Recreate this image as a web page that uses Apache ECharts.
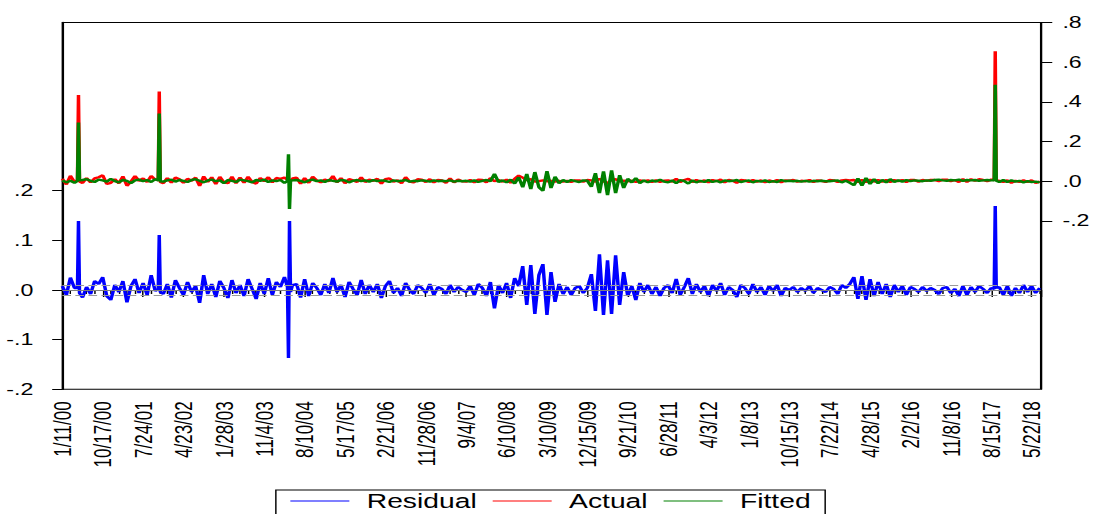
<!DOCTYPE html>
<html>
<head>
<meta charset="UTF-8">
<title>Residual / Actual / Fitted</title>
<script src="https://cdn.jsdelivr.net/npm/echarts@6/dist/echarts.min.js"></script>
<style>
  html, body { margin: 0; padding: 0; background: #fff; overflow: hidden; }
  /* the EViews export is stretched sideways, so draw narrow and widen it */
  #chart { width: 754px; height: 514px; transform: scaleX(1.4496); transform-origin: 0 0; }
</style>
</head>
<body>
<div id="chart"></div>
<script>
// x is the week number counted from 1/11/00; main grid = one point every 4 weeks
var tickLabels = ['1/11/00','10/17/00','7/24/01','4/23/02','1/28/03','11/4/03','8/10/04','5/17/05',
  '2/21/06','11/28/06','9/4/07','6/10/08','3/10/09','12/15/09','9/21/10','6/28/11','4/3/12',
  '1/8/13','10/15/13','7/22/14','4/28/15','2/2/16','11/8/16','8/15/17','5/22/18'];

var residual = [
  0.008,-0.010,0.025,0.004,0.139,-0.015,0.006,-0.008,0.018,0.012,
  0.026,-0.012,-0.020,0.010,-0.004,0.018,-0.025,0.008,0.022,-0.006,
  0.014,-0.010,0.030,-0.002,0.111,-0.008,0.012,-0.015,0.020,0.004,
  -0.010,0.016,-0.004,0.008,-0.026,0.030,-0.008,0.012,-0.014,0.018,
  0.004,-0.016,0.020,-0.006,0.010,-0.012,0.022,0.002,-0.018,0.014,
  -0.008,0.024,-0.010,0.016,0.006,0.026,-0.137,0.010,0.012,-0.015,
  0.022,-0.012,0.014,0.004,-0.010,0.012,-0.006,0.024,-0.004,0.010,
  -0.014,0.016,0.002,-0.010,0.020,-0.008,0.010,-0.004,0.012,-0.016,
  0.008,0.018,-0.006,0.004,-0.012,0.014,0.000,-0.008,0.010,0.004,
  -0.006,0.012,-0.010,0.006,0.002,-0.008,0.010,-0.004,0.006,0.000,
  -0.004,0.008,-0.010,0.012,0.004,-0.012,0.016,-0.037,0.010,-0.006,
  0.014,-0.016,0.024,0.008,0.048,-0.030,0.050,-0.048,0.030,0.052,
  -0.050,0.036,-0.024,0.012,-0.008,0.006,-0.010,0.004,0.008,-0.006,
  0.004,0.032,-0.042,0.072,-0.050,0.060,-0.048,0.070,-0.030,0.036,
  -0.012,0.008,-0.020,0.014,-0.004,0.010,-0.008,0.006,-0.012,0.004,
  0.010,-0.006,0.022,-0.010,0.006,0.024,-0.008,0.012,-0.004,0.008,
  -0.012,0.010,-0.002,0.014,-0.010,0.006,0.000,-0.014,0.010,0.004,
  -0.008,0.012,-0.004,0.006,-0.010,0.008,-0.002,0.010,-0.012,0.004,
  0.000,0.006,-0.004,0.004,-0.002,0.008,-0.006,0.004,0.000,-0.004,
  0.006,0.002,-0.008,0.010,0.004,0.012,0.026,-0.018,0.028,-0.020,
  0.022,-0.012,0.016,-0.008,0.012,-0.014,0.010,-0.004,0.008,-0.010,
  0.006,0.002,-0.004,0.006,-0.002,0.004,0.000,-0.008,0.004,0.006,
  -0.006,0.002,-0.012,0.008,-0.010,0.006,-0.004,0.008,0.002,-0.006,
  0.004,0.169,0.006,-0.010,0.008,-0.012,0.004,-0.006,0.010,-0.004,
  0.008,-0.006,0.004
];

var fitted = [
  0.004,-0.006,0.002,-0.008,0.296,0.006,0.010,0.002,-0.004,0.008,
  0.004,-0.002,0.012,0.000,-0.006,0.006,0.002,-0.010,0.004,0.008,
  0.000,0.006,-0.004,0.010,0.341,-0.002,0.004,0.008,-0.002,0.006,
  0.002,-0.004,0.006,0.010,0.002,-0.006,0.004,0.008,0.000,0.004,
  -0.010,0.006,0.002,-0.004,0.008,0.004,0.000,-0.006,0.006,0.002,
  0.008,-0.004,0.004,0.000,0.006,-0.008,0.136,0.004,0.006,0.002,
  -0.006,0.004,0.008,0.000,0.004,-0.004,0.006,0.002,-0.002,0.006,
  0.004,-0.006,0.002,0.006,0.000,0.004,-0.002,0.006,0.000,0.004,
  0.002,-0.004,0.004,0.000,0.002,0.006,-0.002,0.002,0.000,0.004,
  0.002,-0.002,0.004,0.000,0.002,0.000,0.004,-0.002,0.002,0.000,
  0.002,-0.002,0.004,-0.004,0.002,0.006,0.000,0.037,-0.004,0.004,
  -0.006,0.008,-0.012,0.020,-0.030,0.036,-0.040,0.046,-0.030,-0.048,
  0.050,-0.034,0.022,-0.010,0.006,-0.004,0.006,0.000,-0.004,0.004,
  0.002,-0.028,0.040,-0.060,0.050,-0.070,0.055,-0.060,0.030,-0.034,
  0.012,-0.006,0.016,-0.010,0.004,-0.006,0.004,-0.002,0.008,-0.002,
  -0.006,0.004,-0.010,0.006,0.000,-0.012,0.004,-0.006,0.002,-0.004,
  0.006,-0.004,0.002,-0.006,0.004,0.000,0.002,0.006,-0.004,0.000,
  0.004,-0.006,0.002,-0.002,0.004,-0.004,0.000,-0.004,0.006,0.000,
  0.002,0.000,0.002,-0.002,0.002,-0.002,0.002,0.000,0.002,0.000,
  0.000,0.002,0.004,-0.006,0.002,-0.008,-0.020,0.014,-0.022,0.016,
  -0.014,0.010,-0.010,0.006,-0.006,0.010,-0.004,0.004,-0.002,0.006,
  0.000,0.004,0.002,0.000,0.004,0.002,0.006,0.008,0.004,0.002,
  0.006,0.004,0.008,0.002,0.006,0.004,0.006,0.002,0.004,0.006,
  0.004,0.486,-0.004,0.006,-0.004,0.004,-0.002,0.002,-0.006,0.000,
  -0.004,-0.002,-0.006
];

var actual = [
  0.012,-0.016,0.027,-0.004,0.435,-0.009,0.016,-0.006,0.014,0.020,
  0.030,-0.014,-0.008,0.010,-0.010,0.024,-0.023,-0.002,0.026,0.002,
  0.014,-0.004,0.026,0.008,0.452,-0.010,0.016,-0.007,0.018,0.010,
  -0.008,0.012,0.002,0.018,-0.024,0.024,-0.004,0.020,-0.014,0.022,
  -0.006,-0.010,0.022,-0.010,0.018,-0.008,0.022,-0.004,-0.012,0.016,
  0.000,0.020,-0.006,0.016,0.012,0.018,-0.001,0.014,0.018,-0.013,
  0.016,-0.008,0.022,0.004,-0.006,0.008,0.000,0.026,-0.006,0.016,
  -0.010,0.010,0.004,-0.004,0.020,-0.004,0.008,0.002,0.012,-0.012,
  0.010,0.014,-0.002,0.004,-0.010,0.020,-0.002,-0.006,0.010,0.008,
  -0.004,0.010,-0.006,0.006,0.004,-0.008,0.014,-0.006,0.008,0.000,
  -0.002,0.006,-0.006,0.008,0.006,-0.006,0.016,0.000,0.006,-0.002,
  0.008,-0.008,0.012,0.028,0.018,0.006,0.010,-0.002,0.000,0.004,
  0.000,0.002,-0.002,0.002,-0.002,0.002,-0.004,0.004,0.004,-0.002,
  0.006,0.004,-0.002,0.012,0.000,-0.010,0.007,0.010,0.000,0.002,
  0.000,0.002,-0.004,0.004,0.000,0.004,-0.004,0.004,-0.004,0.002,
  0.004,-0.002,0.012,-0.004,0.006,0.012,-0.004,0.006,-0.002,0.004,
  -0.006,0.006,0.000,0.008,-0.006,0.006,0.002,-0.008,0.006,0.004,
  -0.004,0.006,-0.002,0.004,-0.006,0.004,-0.002,0.006,-0.006,0.004,
  0.002,0.006,-0.002,0.002,0.000,0.006,-0.004,0.004,0.002,-0.004,
  0.006,0.004,-0.004,0.004,0.006,0.004,0.006,-0.004,0.006,-0.004,
  0.008,-0.002,0.006,-0.002,0.006,-0.004,0.006,0.000,0.006,-0.004,
  0.006,0.006,-0.002,0.006,0.002,0.006,0.006,0.000,0.008,0.008,
  0.000,0.006,-0.004,0.010,-0.004,0.010,0.002,0.010,0.006,0.000,
  0.008,0.655,0.002,-0.004,0.004,-0.008,0.002,-0.004,0.004,-0.004,
  0.004,-0.008,-0.002
];

// single-week observations around the spikes (weeks 16, 96, 224/225, 924)
var extraWeeks    = [15, 17, 95, 97, 223, 225, 226, 923, 925];
var residualExtra = [0.004, -0.006, 0.002, -0.004, 0.006, 0.139, -0.004, 0.002, 0.004];
var fittedExtra   = [0.002, 0.004, 0.004, 0.000, 0.002, -0.140, 0.004, 0.004, 0.002];
var actualExtra   = [0.006, -0.002, 0.006, -0.004, 0.008, -0.001, 0.000, 0.006, 0.006];

var sdBand = 0.0148;          // +/- 1 S.E. lines on the residual axis
var resTicks = [-0.2, -0.1, 0, 0.1, 0.2];
var fitTicks = [-0.2, 0, 0.2, 0.4, 0.6, 0.8];

function toPoints(grid, extra) {
  var pts = grid.map(function (v, i) { return [i * 4, v]; });
  extraWeeks.forEach(function (w, k) { pts.push([w, extra[k]]); });
  return pts.sort(function (a, b) { return a[0] - b[0]; });
}

var font = 'Liberation Sans, Arial, sans-serif';

function dotFmt(v) {
  return (v < 0 ? '-' : '') + Math.abs(v).toFixed(1).replace(/^0/, '');
}

var chart = echarts.init(document.getElementById('chart'), null, { renderer: 'svg' });

chart.setOption({
  animation: false,
  backgroundColor: '#fff',
  textStyle: { fontFamily: font, color: '#000' },
  grid: {
    left: 43, right: 36.1, top: 22.5, bottom: 124.7,
    show: true, borderColor: '#000', borderWidth: 1,
    outerBoundsMode: 'none'
  },
  legend: {
    data: ['Residual', 'Actual', 'Fitted'],
    left: 190.3, top: 490,
    padding: [1, 10, 10, 10],
    borderColor: '#000', borderWidth: 1,
    icon: 'rect', itemWidth: 40.7, itemHeight: 1, itemGap: 11,
    textStyle: { fontSize: 19.5, fontFamily: font, color: '#000', padding: [0, 0, 0, 7] }
  },
  xAxis: {
    type: 'value',
    min: 0, max: 969, interval: 40,
    axisLine: { lineStyle: { color: '#000', width: 1 } },
    axisTick: { length: 7, lineStyle: { color: '#000' } },
    minorTick: { show: true, splitNumber: 5, length: 4, lineStyle: { color: '#000' } },
    axisLabel: {
      rotate: 90, fontSize: 17, color: '#000', margin: 12, showMaxLabel: false,
      formatter: function (v) { return tickLabels[v / 40] || ''; }
    },
    splitLine: { show: false }
  },
  yAxis: [{
    type: 'value',
    position: 'left',
    min: -0.2, max: 0.5388,
    axisLine: { show: true, lineStyle: { color: '#000', width: 1.4 } },
    axisTick: { show: true, length: 7, customValues: resTicks, lineStyle: { color: '#000' } },
    axisLabel: { customValues: resTicks, fontSize: 16, color: '#000', margin: 20, formatter: dotFmt },
    splitLine: { show: false }
  }, {
    type: 'value',
    position: 'right',
    min: -1.049, max: 0.8,
    axisLine: { show: true, lineStyle: { color: '#000', width: 1 } },
    axisTick: { show: true, length: 8, customValues: fitTicks, lineStyle: { color: '#000' } },
    axisLabel: { customValues: fitTicks, fontSize: 16, color: '#000', margin: 15, formatter: dotFmt },
    splitLine: { show: false }
  }],
  series: [{
    name: 'bands',
    type: 'line',
    yAxisIndex: 0,
    data: [],
    z: 1,
    silent: true,
    markLine: {
      silent: true, symbol: 'none', label: { show: false },
      data: [
        { yAxis: sdBand, lineStyle: { color: '#9a9a9a', type: [6, 3], width: 1 } },
        { yAxis: -sdBand, lineStyle: { color: '#9a9a9a', type: [6, 3], width: 1 } },
        { yAxis: 0, lineStyle: { color: '#808080', type: 'solid', width: 1 } }
      ]
    }
  }, {
    name: 'Residual',
    type: 'line',
    yAxisIndex: 0,
    data: toPoints(residual, residualExtra),
    showSymbol: false,
    z: 3,
    color: '#0000ff',
    lineStyle: { color: '#0000ff', width: 2.4 }
  }, {
    name: 'Actual',
    type: 'line',
    yAxisIndex: 1,
    data: toPoints(actual, actualExtra),
    showSymbol: false,
    z: 3,
    color: '#ff0000',
    lineStyle: { color: '#ff0000', width: 2.4 }
  }, {
    name: 'Fitted',
    type: 'line',
    yAxisIndex: 1,
    data: toPoints(fitted, fittedExtra),
    showSymbol: false,
    z: 4,
    color: '#008000',
    lineStyle: { color: '#008000', width: 2.4 }
  }]
});
</script>
</body>
</html>
